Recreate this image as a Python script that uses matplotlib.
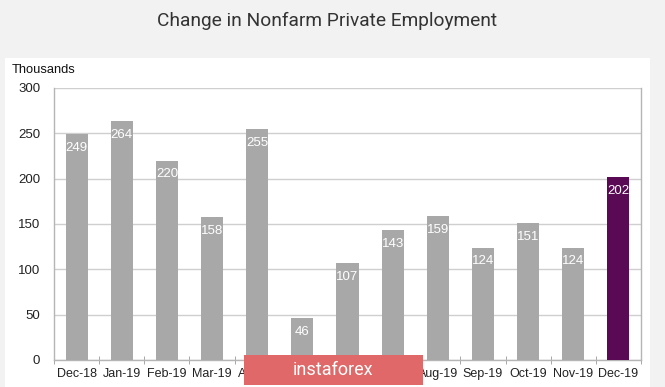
import matplotlib
matplotlib.use("Agg")
import matplotlib.pyplot as plt
from matplotlib.patches import Rectangle

months = ["Dec-18", "Jan-19", "Feb-19", "Mar-19", "Apr-19", "May-19", "Jun-19",
          "Jul-19", "Aug-19", "Sep-19", "Oct-19", "Nov-19", "Dec-19"]
values = [249, 264, 220, 158, 255, 46, 107, 143, 159, 124, 151, 124, 202]
yticks = [0, 50, 100, 150, 200, 250, 300]

W, H = 665, 387
fig = plt.figure(figsize=(W / 100, H / 100), dpi=100)
fig.patch.set_facecolor("#f2f2f2")

# white panel
fig.patches.append(Rectangle((5 / W, 0), (650 - 5) / W, (H - 58) / H,
                             transform=fig.transFigure, facecolor="white",
                             edgecolor="none", zorder=-5))

fig.text(327 / W, 1 - 21 / H, "Change in Nonfarm Private Employment",
         ha="center", va="center", fontsize=13.8, color="#333333",
         family="Roboto")

ax = fig.add_axes([54 / W, 1 - 360 / H, (641 - 54) / W, (360 - 88) / H])
ax.set_zorder(1)
ax.set_facecolor("white")
x = list(range(len(months)))
colors = ["#a8a8a8"] * (len(months) - 1) + ["#5a0a55"]
bars = ax.bar(x, values, width=0.49, color=colors, zorder=3)
ax.set_xlim(-0.5, len(months) - 0.5)
ax.set_ylim(0, 300)
ax.set_yticks(yticks)
ax.set_yticklabels([str(v) for v in yticks], family="Liberation Sans",
                   fontsize=9.5, color="#222222")
ax.grid(axis="y", color="#cfcfcf", linewidth=1.0, zorder=0)
ax.set_xticks(x)
ax.set_xticklabels(months, family="Liberation Sans", fontsize=9, color="#222222")
ax.tick_params(axis="x", length=0, pad=6)
ax.tick_params(axis="y", length=0, pad=10)
# boundary ticks on x axis
ax.set_xticks([i - 0.5 for i in range(len(months) + 1)], minor=True)
ax.tick_params(axis="x", which="minor", length=6, direction="inout", color="#999999")
ax.spines["top"].set_visible(False)
for s in ["left", "right", "bottom"]:
    ax.spines[s].set_color("#b5b5b5")
    ax.spines[s].set_linewidth(1.0)

for xi, v in zip(x, values):
    ax.annotate(str(v), (xi, v), xytext=(0, -10), textcoords="offset points",
                ha="center", va="center", color="white", fontsize=9.5,
                family="Liberation Sans", zorder=4)

fig.text(12 / W, 1 - 70 / H, "Thousands", ha="left", va="center",
         fontsize=9.3, family="Liberation Sans", color="#111111")

# watermark
wm_ax = fig.add_axes([244 / W, 1 - 385 / H, (423 - 244) / W, 30 / H])
wm_ax.set_zorder(10)
wm_ax.set_facecolor("#e06868")
wm_ax.set_xticks([])
wm_ax.set_yticks([])
for s in wm_ax.spines.values():
    s.set_visible(False)
wm_ax.text(0.5, 0.5, "instaforex", ha="center", va="center",
           fontsize=13, color="white", family="Roboto", transform=wm_ax.transAxes)

fig.savefig("out.png", dpi=100, facecolor=fig.get_facecolor())
